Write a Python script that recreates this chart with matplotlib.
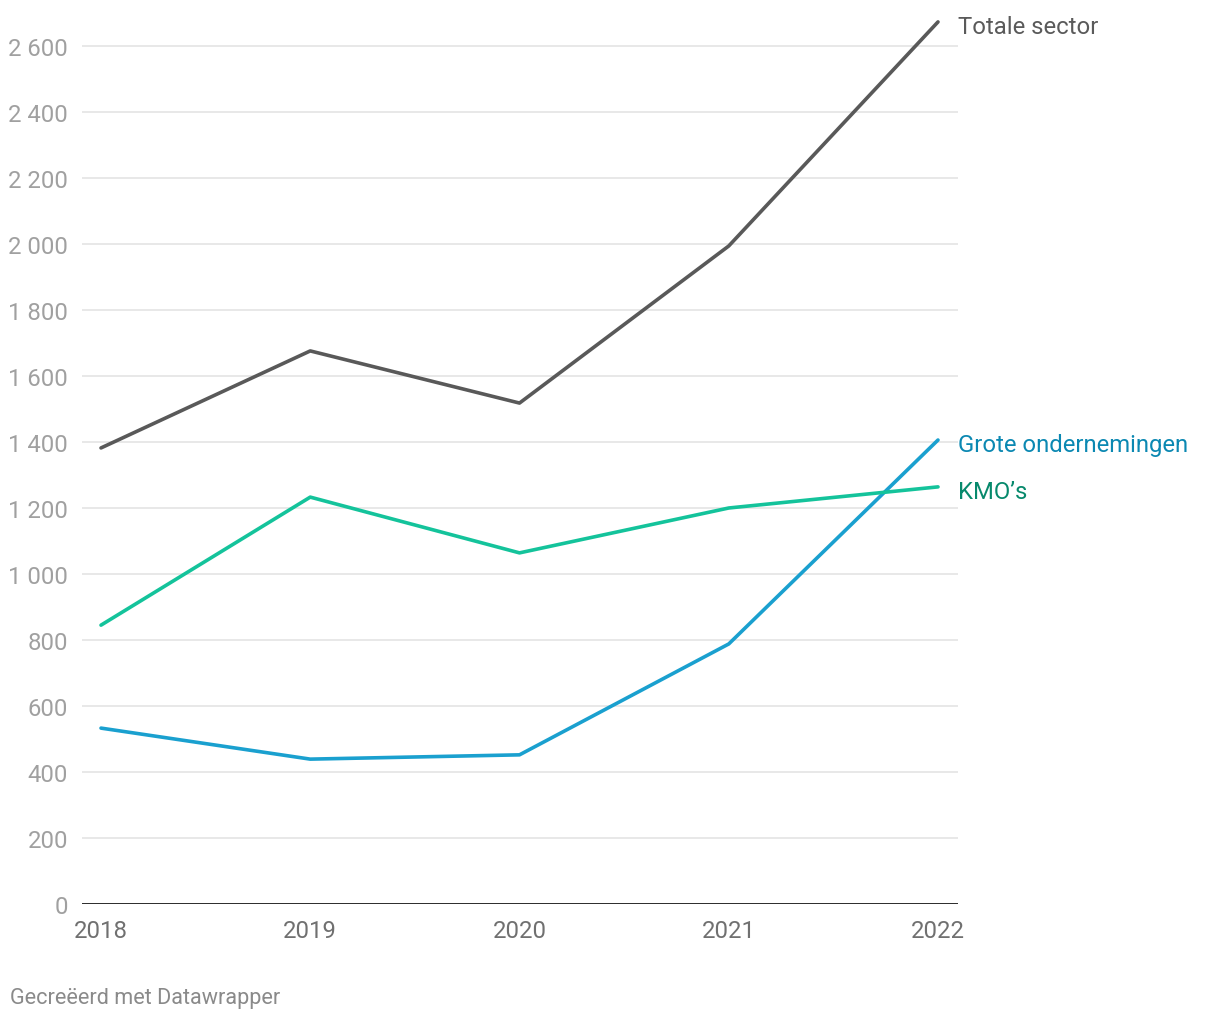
import matplotlib
matplotlib.use("Agg")
import matplotlib.pyplot as plt

plt.rcParams['font.family'] = ['Roboto', 'DejaVu Sans']

years = [2018, 2019, 2020, 2021, 2022]
totale = [1382, 1676, 1518, 1994, 2673]
grote = [533, 439, 452, 788, 1406]
kmo = [845, 1233, 1064, 1200, 1264]

y_ticks = [0, 200, 400, 600, 800, 1000, 1200, 1400, 1600, 1800, 2000, 2200, 2400, 2600]

series = [
    ("Totale sector", totale, '#595959', '#5a5a5a'),
    ("Grote ondernemingen", grote, '#1aa0cf', '#0b88b2'),
    ("KMO’s", kmo, '#14c39b', '#07896c'),
]

fig = plt.figure(figsize=(12.2, 10.2), dpi=100)
ax = fig.add_axes([82 / 1220, 115 / 1020, (958 - 82) / 1220, (903 - 12) / 1020])

for name, vals, col, lcol in series:
    ax.plot(years, vals, color=col, lw=2.6, solid_capstyle='round', zorder=3)
    ax.annotate(name, xy=(years[-1], vals[-1]), xytext=(14.5, -3),
                textcoords='offset points', va='center', ha='left',
                fontsize=17.2, color=lcol, annotation_clip=False)

ax.set_xlim(2018 - 19 / 209.25, 2022 + 20 / 209.25)
ax.set_ylim(0, 2700)

ax.set_yticks(y_ticks)
ax.set_yticklabels(['{:,}'.format(v).replace(',', ' ') for v in y_ticks])
ax.set_xticks(years)
ax.set_xticklabels([str(y) for y in years])
ax.tick_params(axis='y', length=0, pad=10, labelsize=17.2, labelcolor='#a0a0a0')
ax.tick_params(axis='x', length=0, pad=10.5, labelsize=17.2, labelcolor='#707070')

ax.grid(axis='y', color='#e1e1e1', lw=1.1, zorder=0)
ax.axhline(0, color='#1a1a1a', lw=2, zorder=4)
for s in ax.spines.values():
    s.set_visible(False)

fig.text(10 / 1220, 1 - 999 / 1020, "Gecreëerd met Datawrapper", fontsize=15.6,
         color='#8a8a8a', va='center', ha='left')

fig.savefig("out.png", dpi=100)
